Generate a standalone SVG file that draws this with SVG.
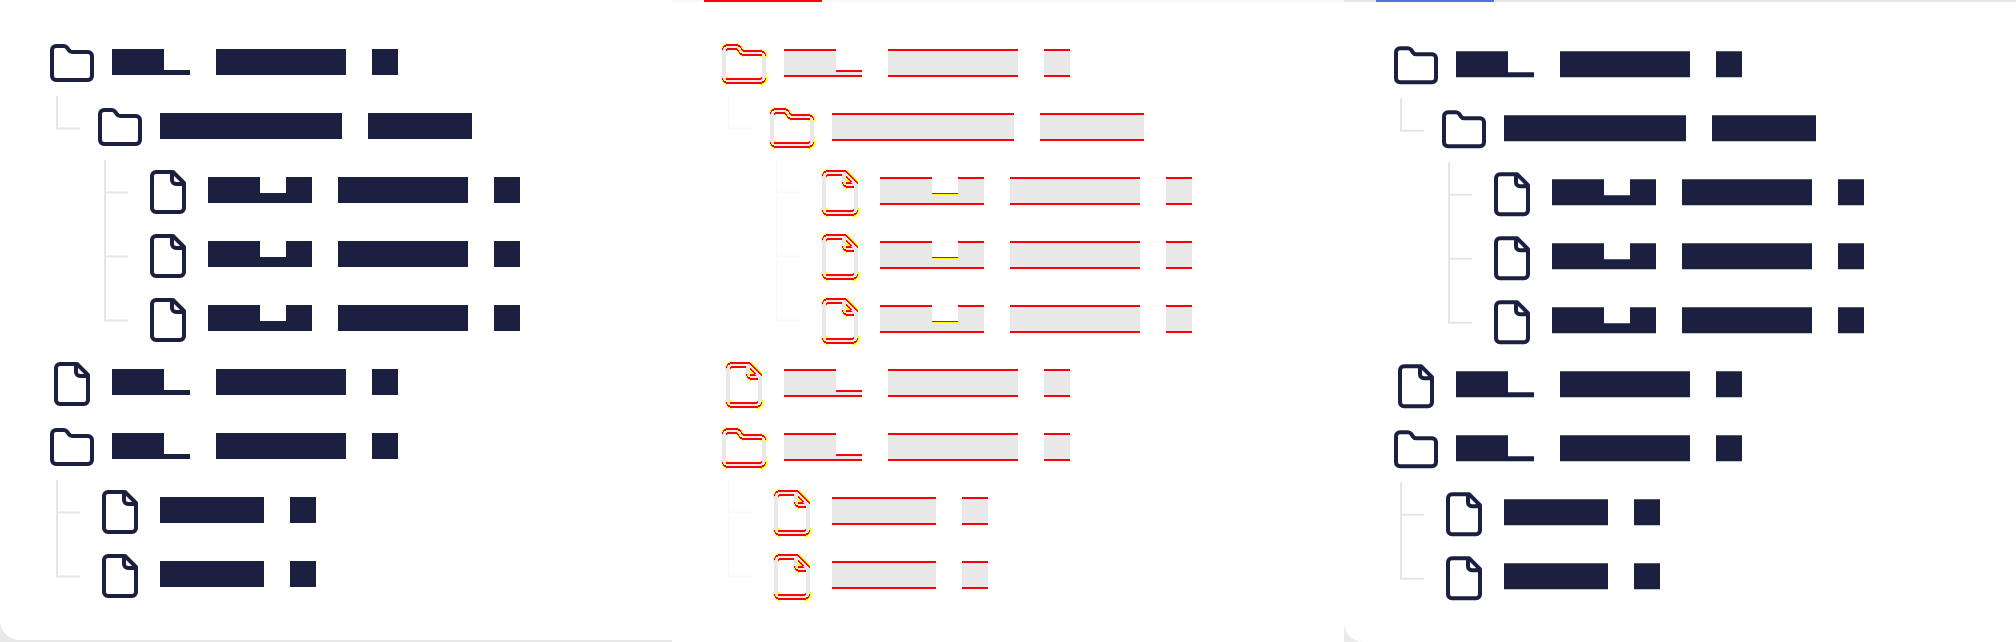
<svg xmlns="http://www.w3.org/2000/svg" width="2016" height="642" viewBox="0 0 2016 642">
<style>
.ic{fill:none;stroke:#1b2040;stroke-width:2;stroke-linecap:round;stroke-linejoin:round}
.lb{fill:#1b2040}
.c{fill:none;stroke:#e5e5e5;stroke-width:2}
.cp{fill:none;stroke:#fafafa;stroke-width:2}
.r{fill:#f00}
.g{fill:#e8e8e8}
.y{fill:#ff0}
.di{shape-rendering:crispEdges;fill:none;stroke-linejoin:round}
.sr{stroke:#f00;stroke-width:2}
.sg{stroke:#e8e8e8;stroke-width:2}
.sy{stroke:#ff0;stroke-width:3}
.sw{stroke:#fff;stroke-width:2;fill:none;stroke-linejoin:round;shape-rendering:crispEdges}
</style>
<defs>
<path id="folder" d="M20 20a2 2 0 0 0 2-2V8a2 2 0 0 0-2-2h-7.900a2 2 0 0 1-1.690-.9L9.600 3.900A2 2 0 0 0 7.930 3H4a2 2 0 0 0-2 2v13a2 2 0 0 0 2 2Z"/>
<path id="file" d="M14.500 2H6a2 2 0 0 0-2 2v16a2 2 0 0 0 2 2h12a2 2 0 0 0 2-2V7.500ZM14 2v4a2 2 0 0 0 2 2h4"/>
<path id="folder-k" d="M20 20a2 2 0 0 0 2-2M22 8a2 2 0 0 0-2-2M12.100 6a2 2 0 0 1-1.690-.9L9.600 3.900A2 2 0 0 0 7.930 3M4 3a2 2 0 0 0-2 2M2 18a2 2 0 0 0 2 2"/>
<path id="file-k" d="M6 2a2 2 0 0 0-2 2M4 20a2 2 0 0 0 2 2M18 22a2 2 0 0 0 2-2M14.500 2L20 7.500M14 6a2 2 0 0 0 2 2"/>
<mask id="m-folder" maskUnits="userSpaceOnUse" x="-2" y="-2" width="30" height="30"><use href="#folder" y="1" class="sw"/></mask>
<mask id="m-file" maskUnits="userSpaceOnUse" x="-2" y="-2" width="30" height="30"><use href="#file" y="1" class="sw"/></mask>
<g id="i-folder" class="ic" transform="scale(2)"><use href="#folder"/></g>
<g id="i-file" class="ic" transform="scale(2)"><use href="#file"/></g>
<g id="d-folder" class="di" transform="scale(2)"><use href="#folder-k" class="sy"/><use href="#folder-k" y="1" class="sy"/><use href="#folder" class="sr"/><use href="#folder" y="1" class="sr"/><use href="#folder" class="sg" mask="url(#m-folder)"/></g>
<g id="d-file" class="di" transform="scale(2)"><use href="#file-k" class="sy"/><use href="#file-k" y="1" class="sy"/><use href="#file" class="sr"/><use href="#file" y="1" class="sr"/><use href="#file" class="sg" mask="url(#m-file)"/></g>
<path id="la" d="M0 0H52V21H78V26H0ZM104 0H234V26H104ZM260 0H286V26H260Z"/>
<path id="lb" d="M0 0H182V26H0ZM208 0H312V26H208Z"/>
<path id="lc" d="M0 0H52V16H78V0H104V26H0ZM130 0H260V26H130ZM286 0H312V26H286Z"/>
<path id="ld" d="M0 0H104V26H0ZM130 0H156V26H130Z"/>
<g id="da"><use href="#la" class="r"/><use href="#la" y="2" class="r"/><path class="g" d="M0 2H52V23H78V26H0ZM104 2H234V26H104ZM260 2H286V26H260Z"/></g>
<g id="db"><use href="#lb" class="r"/><use href="#lb" y="2" class="r"/><path class="g" d="M0 2H182V26H0ZM208 2H312V26H208Z"/></g>
<g id="dc"><use href="#lc" class="r"/><use href="#lc" y="2" class="r"/><path class="g" d="M0 2H52V18H78V2H104V26H0ZM130 2H260V26H130ZM286 2H312V26H286Z"/><rect class="y" x="52" y="17" width="26" height="1"/></g>
<g id="dd"><use href="#ld" class="r"/><use href="#ld" y="2" class="r"/><path class="g" d="M0 2H104V26H0ZM130 2H156V26H130Z"/></g>
</defs>
<rect width="2016" height="642" fill="#fff"/>
<g id="frame">
<path fill="#e8e8e8" d="M0 620A20 20 0 0 0 20 640H672V642H0Z"/>
<rect x="672" y="0" width="672" height="2" fill="#f9f9f9"/>
<rect x="704" y="0" width="118" height="2" fill="#f00"/>
<rect x="1344" y="0" width="672" height="2" fill="#e5e5e5"/>
<rect x="1376" y="0" width="118" height="2" fill="#5570d8"/>
<path fill="#ececec" d="M1344 622A20 20 0 0 0 1364 642H1344Z"/>
</g>
<g id="connectors">
<path class="c" d="M57 96V129M56 128.500H80M105 160V321M104 192.500H128M104 256.500H128M104 320.500H128M57 480V577M56 512.500H80M56 576.500H80"/>
<path class="cp" transform="translate(672,0)" d="M57 96V129M56 128.500H80M105 160V321M104 192.500H128M104 256.500H128M104 320.500H128M57 480V577M56 512.500H80M56 576.500H80"/>
<path class="c" transform="translate(1344,2.150)" d="M57 96V129M56 128.500H80M105 160V321M104 192.500H128M104 256.500H128M104 320.500H128M57 480V577M56 512.500H80M56 576.500H80"/>
</g>
<g id="panel-a">
<g id="a1" transform="translate(48,40)"><use href="#i-folder"/><use href="#la" class="lb" x="64" y="9"/></g>
<g id="a2" transform="translate(96,104)"><use href="#i-folder"/><use href="#lb" class="lb" x="64" y="9"/></g>
<g id="a3" transform="translate(144,168)"><use href="#i-file"/><use href="#lc" class="lb" x="64" y="9"/></g>
<g id="a4" transform="translate(144,232)"><use href="#i-file"/><use href="#lc" class="lb" x="64" y="9"/></g>
<g id="a5" transform="translate(144,296)"><use href="#i-file"/><use href="#lc" class="lb" x="64" y="9"/></g>
<g id="a6" transform="translate(48,360)"><use href="#i-file"/><use href="#la" class="lb" x="64" y="9"/></g>
<g id="a7" transform="translate(48,424)"><use href="#i-folder"/><use href="#la" class="lb" x="64" y="9"/></g>
<g id="a8" transform="translate(96,488)"><use href="#i-file"/><use href="#ld" class="lb" x="64" y="9"/></g>
<g id="a9" transform="translate(96,552)"><use href="#i-file"/><use href="#ld" class="lb" x="64" y="9"/></g>
</g>
<g id="panel-b" transform="translate(672,0)">
<g id="b1" transform="translate(48,40)"><use href="#d-folder"/><use href="#da" x="64" y="9"/></g>
<g id="b2" transform="translate(96,104)"><use href="#d-folder"/><use href="#db" x="64" y="9"/></g>
<g id="b3" transform="translate(144,168)"><use href="#d-file"/><use href="#dc" x="64" y="9"/></g>
<g id="b4" transform="translate(144,232)"><use href="#d-file"/><use href="#dc" x="64" y="9"/></g>
<g id="b5" transform="translate(144,296)"><use href="#d-file"/><use href="#dc" x="64" y="9"/></g>
<g id="b6" transform="translate(48,360)"><use href="#d-file"/><use href="#da" x="64" y="9"/></g>
<g id="b7" transform="translate(48,424)"><use href="#d-folder"/><use href="#da" x="64" y="9"/></g>
<g id="b8" transform="translate(96,488)"><use href="#d-file"/><use href="#dd" x="64" y="9"/></g>
<g id="b9" transform="translate(96,552)"><use href="#d-file"/><use href="#dd" x="64" y="9"/></g>
</g>
<g id="panel-c" transform="translate(1344,2.150)">
<g id="c1" transform="translate(48,40)"><use href="#i-folder"/><use href="#la" class="lb" x="64" y="9"/></g>
<g id="c2" transform="translate(96,104)"><use href="#i-folder"/><use href="#lb" class="lb" x="64" y="9"/></g>
<g id="c3" transform="translate(144,168)"><use href="#i-file"/><use href="#lc" class="lb" x="64" y="9"/></g>
<g id="c4" transform="translate(144,232)"><use href="#i-file"/><use href="#lc" class="lb" x="64" y="9"/></g>
<g id="c5" transform="translate(144,296)"><use href="#i-file"/><use href="#lc" class="lb" x="64" y="9"/></g>
<g id="c6" transform="translate(48,360)"><use href="#i-file"/><use href="#la" class="lb" x="64" y="9"/></g>
<g id="c7" transform="translate(48,424)"><use href="#i-folder"/><use href="#la" class="lb" x="64" y="9"/></g>
<g id="c8" transform="translate(96,488)"><use href="#i-file"/><use href="#ld" class="lb" x="64" y="9"/></g>
<g id="c9" transform="translate(96,552)"><use href="#i-file"/><use href="#ld" class="lb" x="64" y="9"/></g>
</g>
</svg>
